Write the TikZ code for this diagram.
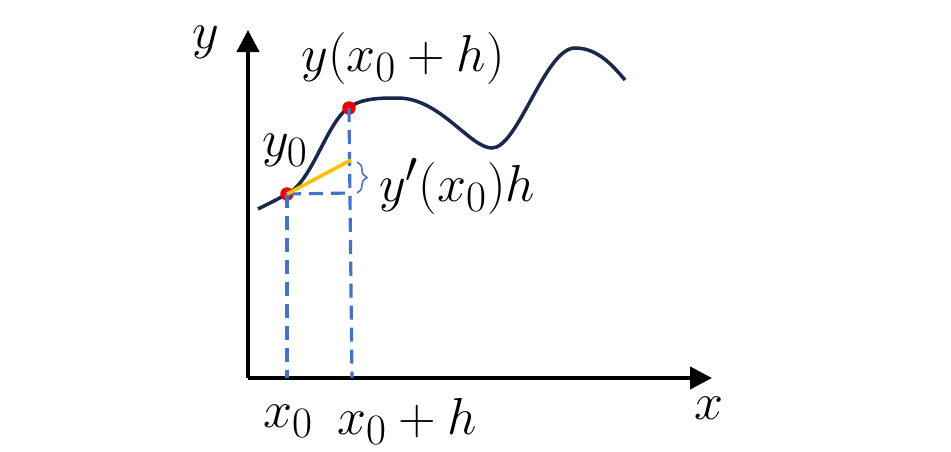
\documentclass[tikz,border=0pt]{standalone}
\usepackage{graphicx}
\usetikzlibrary{arrows.meta,decorations.pathreplacing}
\definecolor{curvenavy}{RGB}{25, 40, 75}
\definecolor{dashblue}{RGB}{68, 114, 196}
\definecolor{tangentgold}{RGB}{255, 192, 0}
\definecolor{pointred}{RGB}{235, 0, 0}
\newcommand{\mathlbl}[1]{\scalebox{1.19}{$#1$}}

\begin{document}
\begin{tikzpicture}[
  x=0.02cm, y=-0.02cm,
  axis/.style={line width=2.4pt, -{Triangle[length=0.44cm, width=0.44cm]}},
  guide/.style={dashblue, line width=1.8pt, dash pattern=on 8pt off 4.5pt},
  mark point/.style={circle, fill=pointred, inner sep=0pt, minimum size=0.27cm},
  lbl/.style={font=\Huge, inner sep=0pt}
]
  \useasboundingbox (0,0) rectangle (951,451);

  % Axes
  \coordinate (O) at (248,378);
  \coordinate (ytip) at (248,30);
  \coordinate (xtip) at (712,378);
  \draw[axis] (O) -- (ytip);
  \draw[axis] (O) -- (xtip);

  % Function curve
  \draw[curvenavy, line width=2pt]
    (258,209) .. controls (268,204) and (278,199) .. (287,194)
              .. controls (312,182) and (326,124) .. (348,108)
              .. controls (362,98) and (380,98) .. (398,98)
              .. controls (440,98) and (470,148) .. (492,148)
              .. controls (518,148) and (545,48) .. (575,48)
              .. controls (598,48) and (613,66) .. (625,80);

  % Points and helper lines
  \node[mark point] (p0) at (287,194) {};
  \node[mark point] (p1) at (349,108) {};
  \coordinate (t1) at (351,160);
  \coordinate (h1) at (351,193);
  \coordinate (f0) at (287,378);
  \coordinate (f1) at (352,378);

  \draw[guide] (p0.center) -- (f0);
  \draw[guide] (p1.center) -- (f1);
  \draw[guide] (p0.center) -- (h1);
  \draw[tangentgold, line width=2pt] (p0.center) -- (t1);
  \draw[dashblue, line width=0.9pt, decorate, decoration={brace, amplitude=0.2cm}]
    (357,162) -- (357,193);

  % Labels
  \node[lbl] (ylab) at (206,42) {\mathlbl{y}};
  \node[lbl] (xlab) at (709,408) {\mathlbl{x}};
  \node[lbl] (yh) at (403,58) {\mathlbl{y(x_0+h)}};
  \node[lbl] (y0) at (285,150) {\mathlbl{y_0}};
  \node[lbl] (dy) at (457,186) {\mathlbl{y'(x_0)h}};
  \node[lbl] (x0) at (288,421) {\mathlbl{x_0}};
  \node[lbl] (x0h) at (407,421) {\mathlbl{x_0+h}};
\end{tikzpicture}
\end{document}
